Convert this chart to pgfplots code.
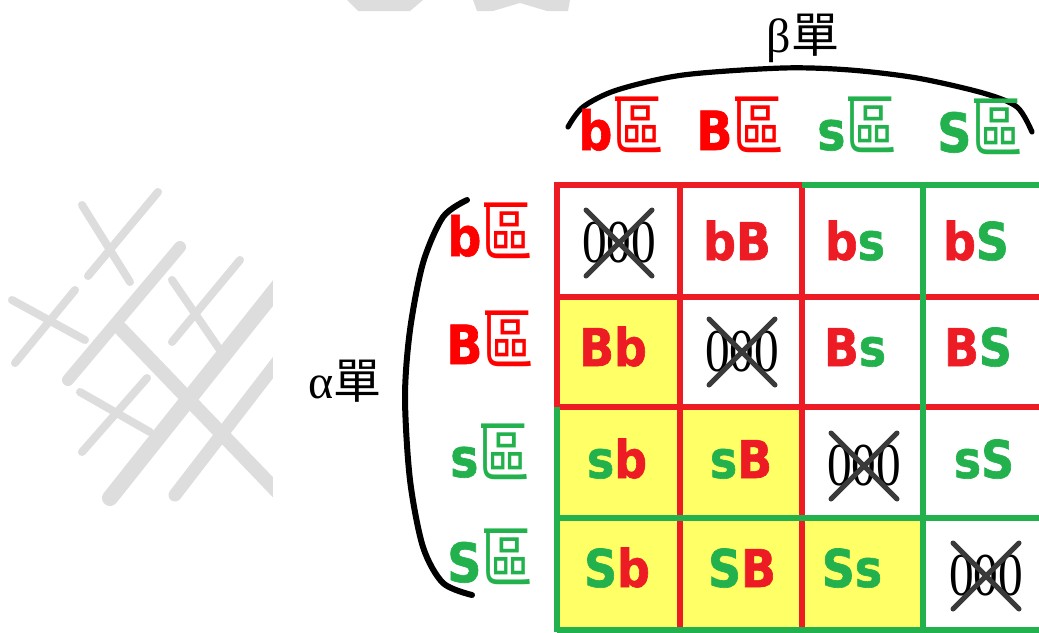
\documentclass[border=0pt]{standalone}
\usepackage{pgfplots}
\pgfplotsset{compat=1.18}
\usepackage{graphicx}
\usepackage{fontspec}
\setmainfont{Liberation Serif}
\newfontfamily\bsans[FakeStretch=0.88,FakeBold=1.2]{DejaVu Sans}
\newfontfamily\cjk{Noto Sans CJK TC}
\definecolor{cred}{HTML}{ED1C24}
\definecolor{hred}{HTML}{FF0000}
\definecolor{cgreen}{HTML}{22B14C}
\definecolor{cyellow}{HTML}{FFFF66}
\definecolor{wm}{HTML}{DDDDDD}
\definecolor{xgray}{HTML}{3A3A3A}
\newcommand{\R}[1]{\textcolor{cred}{#1}}
\newcommand{\G}[1]{\textcolor{cgreen}{#1}}
\newcommand{\cell}[1]{\fontsize{26}{30}\selectfont\bsans\bfseries #1}
\newcommand{\hdr}[2]{\textcolor{#1}{\fontsize{27}{30}\selectfont\bsans\bfseries #2\cjk\mdseries\fontsize{27}{30}\selectfont\scalebox{0.95}[1.25]{區}}}
\newcommand{\zz}{\fontsize{29}{30}\selectfont\scalebox{0.85}[1.05]{000}}
\begin{document}
\begin{tikzpicture}
\begin{axis}[scale only axis, width=519.5pt, height=316pt,
  xmin=0, xmax=1039, ymin=0, ymax=632, y dir=reverse,
  axis line style={draw=none}, ticks=none, clip=true]
% watermark
\addplot[wm, line width=6pt, line cap=round] coordinates {(68,380) (180,247)};
\addplot[wm, line width=8pt, line cap=round] coordinates {(110,498) (285,278)};
\addplot[wm, line width=6.5pt, line cap=round] coordinates {(175,495) (285,352)};
\addplot[wm, line width=7pt, line cap=round] coordinates {(120,328) (290,505)};
\addplot[wm, line width=4pt, line cap=round] coordinates {(88,276) (158,192)};
\addplot[wm, line width=4pt, line cap=round] coordinates {(82,205) (130,282)};
\addplot[wm, line width=4pt, line cap=round] coordinates {(15,363) (75,290)};
\addplot[wm, line width=4pt, line cap=round] coordinates {(12,300) (85,340)};
\addplot[wm, line width=4pt, line cap=round] coordinates {(172,342) (240,260)};
\addplot[wm, line width=4pt, line cap=round] coordinates {(172,280) (220,350)};
\addplot[wm, line width=4pt, line cap=round] coordinates {(82,452) (147,378)};
\addplot[wm, line width=4pt, line cap=round] coordinates {(80,392) (150,432)};
\addplot[wm, fill=wm, draw=none] coordinates {(347,0) (423,0) (410,11) (358,11)} --cycle;
\addplot[wm, fill=wm, draw=none] coordinates {(473,0) (570,0) (568,11) (547,11) (520,3) (493,11) (477,11)} --cycle;
% white rectangle cutting the watermark
\addplot[white, fill=white, draw=none] coordinates {(273,240) (300,240) (300,520) (273,520)} --cycle;
% yellow cells
\addplot[fill=cyellow, draw=none] coordinates {(557,297) (680,297) (680,407) (557,407)} --cycle;
\addplot[fill=cyellow, draw=none] coordinates {(557,407) (680,407) (680,518) (557,518)} --cycle;
\addplot[fill=cyellow, draw=none] coordinates {(680,407) (802,407) (802,518) (680,518)} --cycle;
\addplot[fill=cyellow, draw=none] coordinates {(557,518) (680,518) (680,630) (557,630)} --cycle;
\addplot[fill=cyellow, draw=none] coordinates {(680,518) (802,518) (802,630) (680,630)} --cycle;
\addplot[fill=cyellow, draw=none] coordinates {(802,518) (923,518) (923,630) (802,630)} --cycle;
% red lines
\addplot[cred, line width=3.3pt, line cap=rect] coordinates {(557,185) (802,185)};
\addplot[cred, line width=3.3pt, line cap=rect] coordinates {(557,185) (557,407)};
\addplot[cred, line width=3.3pt] coordinates {(680,185) (680,632)};
\addplot[cred, line width=3.3pt] coordinates {(802,185) (802,632)};
\addplot[cred, line width=3.3pt] coordinates {(557,297) (1045,297)};
\addplot[cred, line width=3.3pt] coordinates {(557,407) (1045,407)};
% green lines
\addplot[cgreen, line width=3.3pt] coordinates {(802,185) (1045,185)};
\addplot[cgreen, line width=3.3pt] coordinates {(557,407) (557,632)};
\addplot[cgreen, line width=3.3pt] coordinates {(923,185) (923,632)};
\addplot[cgreen, line width=3.3pt] coordinates {(557,518) (1045,518)};
\addplot[cgreen, line width=3.3pt] coordinates {(557,630) (1045,630)};
% braces
\addplot[black, line width=2.6pt, smooth, line cap=round] coordinates {(568,127) (583,107) (617,90) (683,75) (783,68) (850,70) (917,78) (983,93) (1017,107) (1032,132)};
\addplot[black, line width=3pt, smooth, line cap=round] coordinates {(467,200) (443,217) (423,263) (410,330) (405,397) (410,480) (423,547) (443,583) (472,595)};
% crossed cells
\node at (axis cs:619,243) {\zz};
\node at (axis cs:742,352) {\zz};
\node at (axis cs:864,466) {\zz};
\node at (axis cs:986,576) {\zz};
\addplot[xgray, line width=2.5pt, line cap=round] coordinates {(586,210) (652,276)};
\addplot[xgray, line width=2.5pt, line cap=round] coordinates {(652,210) (586,276)};
\addplot[xgray, line width=2.5pt, line cap=round] coordinates {(709,319) (775,385)};
\addplot[xgray, line width=2.5pt, line cap=round] coordinates {(775,319) (709,385)};
\addplot[xgray, line width=2.5pt, line cap=round] coordinates {(831,433) (897,499)};
\addplot[xgray, line width=2.5pt, line cap=round] coordinates {(897,433) (831,499)};
\addplot[xgray, line width=2.5pt, line cap=round] coordinates {(953,543) (1019,609)};
\addplot[xgray, line width=2.5pt, line cap=round] coordinates {(1019,543) (953,609)};
% cell labels
\node[anchor=base] at (axis cs:737,260) {\cell{\R{bB}}};
\node[anchor=base] at (axis cs:855,260) {\cell{\R{b}\G{s}}};
\node[anchor=base] at (axis cs:976,260) {\cell{\R{b}\G{S}}};
\node[anchor=base] at (axis cs:613,366) {\cell{\R{Bb}}};
\node[anchor=base] at (axis cs:855,366) {\cell{\R{B}\G{s}}};
\node[anchor=base] at (axis cs:978,366) {\cell{\R{B}\G{S}}};
\node[anchor=base] at (axis cs:617,478) {\cell{\G{s}\R{b}}};
\node[anchor=base] at (axis cs:741,478) {\cell{\G{s}\R{B}}};
\node[anchor=base] at (axis cs:984,478) {\cell{\G{sS}}};
\node[anchor=base] at (axis cs:617,587) {\cell{\G{S}\R{b}}};
\node[anchor=base] at (axis cs:742,587) {\cell{\G{S}\R{B}}};
\node[anchor=base] at (axis cs:852,587) {\cell{\G{Ss}}};
% headers
\node[anchor=base] at (axis cs:621,150) {\hdr{hred}{b}};
\node[anchor=base] at (axis cs:740,150) {\hdr{hred}{B}};
\node[anchor=base] at (axis cs:857,150) {\hdr{cgreen}{s}};
\node[anchor=base] at (axis cs:980,152) {\hdr{cgreen}{S}};
\node[anchor=base] at (axis cs:490,256) {\hdr{hred}{b}};
\node[anchor=base] at (axis cs:490,364) {\hdr{hred}{B}};
\node[anchor=base] at (axis cs:490,477) {\hdr{cgreen}{s}};
\node[anchor=base] at (axis cs:490,582) {\hdr{cgreen}{S}};
\node[anchor=base] at (axis cs:345,398) {\fontsize{24}{28}\selectfont α\cjk 單};
\node[anchor=base] at (axis cs:803,52) {\fontsize{24}{28}\selectfont β\cjk 單};
\end{axis}
\end{tikzpicture}
\end{document}
